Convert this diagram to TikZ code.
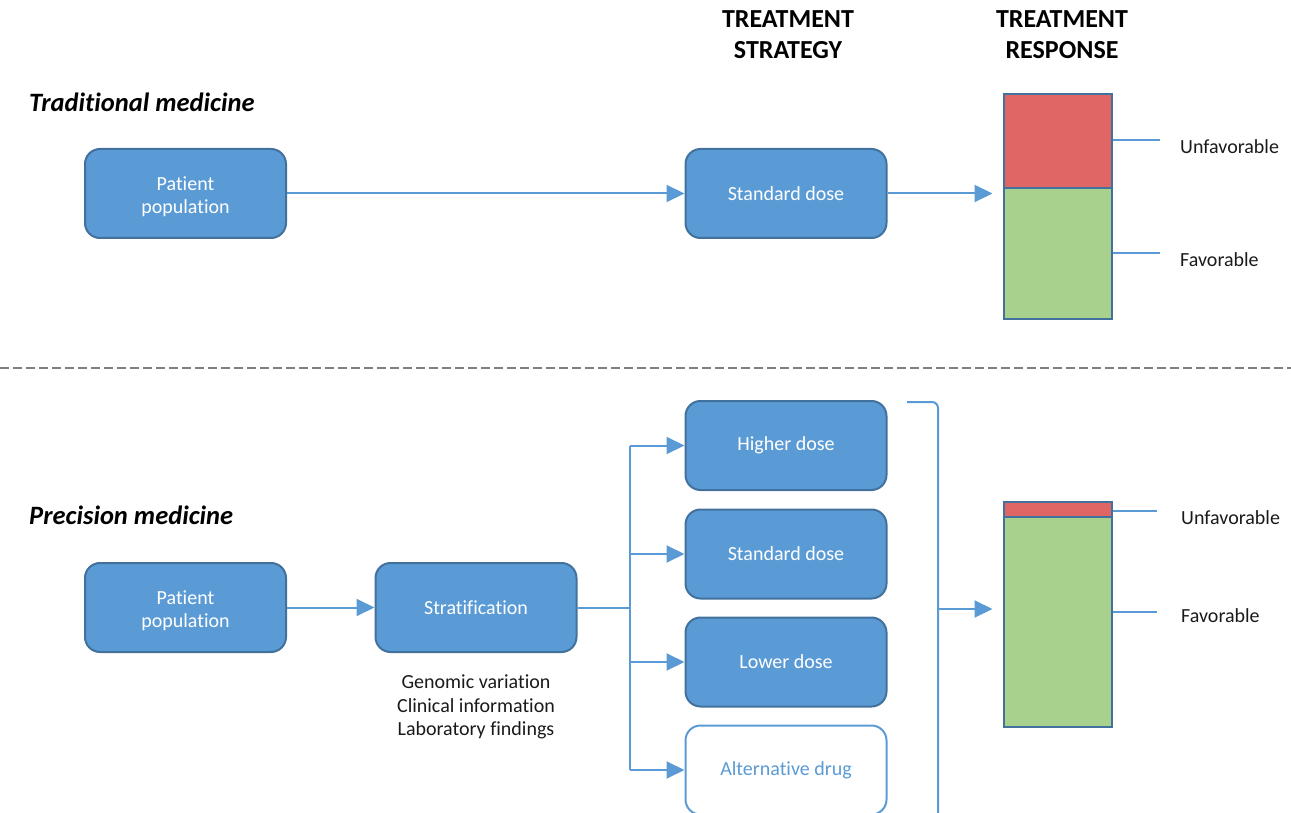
\documentclass[tikz,border=0pt]{standalone}
\usepackage{fontspec}
\setmainfont{Carlito}[Ligatures=NoCommon]
\usetikzlibrary{arrows.meta,calc}
\definecolor{boxfill}{HTML}{5B9BD5}
\definecolor{boxedge}{HTML}{41719C}
\definecolor{barred}{HTML}{E06666}
\definecolor{bargreen}{HTML}{A9D18E}
\definecolor{dashgray}{HTML}{7F7F7F}
\definecolor{txt}{HTML}{1A1A1A}
\newcommand{\lowered}[1]{\raisebox{-3pt}[\height][\depth]{\parbox{180pt}{\centering #1}}}
\begin{document}
\begin{tikzpicture}[x=1pt,y=-1pt,
  box/.style={draw=boxedge, line width=2pt, fill=boxfill, rounded corners=15pt,
    minimum width=201pt, minimum height=89pt, text=white, align=center, inner sep=0pt,
    font=\fontsize{20}{23.5}\selectfont},
  altbox/.style={box, fill=white, draw=boxfill, text=boxfill},
  barpart/.style={draw=boxedge, line width=2pt, minimum width=108pt, inner sep=0pt},
  conn/.style={draw=boxfill, line width=2pt},
  arr/.style={conn, -{Triangle[length=18pt,width=17pt]}},
  title/.style={font=\fontsize{26.5}{30}\selectfont\bfseries\itshape, text=black, inner sep=0pt},
  head/.style={font=\fontsize{26}{31}\selectfont\bfseries, text=black, align=center, inner sep=0pt},
  lbl/.style={font=\fontsize{20}{23.5}\selectfont, text=txt, inner sep=0pt},
]
\useasboundingbox (0,0) rectangle (1291,813);

% headers
\node[head, anchor=north] (hs) at (788,10) {TREATMENT\\STRATEGY};
\node[head, anchor=north] (hr) at (1062,10) {TREATMENT\\RESPONSE};

% ---------------- traditional
\node[title, anchor=base west] (trad) at (29,112) {Traditional medicine};
\node[box] (pp1) at (185.5,193.5) {\lowered{Patient\\population}};
\node[box] (sd1) at (786,193.5) {Standard dose};
\draw[arr] (pp1) -- (sd1);

\node[barpart, fill=barred, minimum height=94pt] (b1r) at (1057.5,141) {};
\node[barpart, fill=bargreen, minimum height=131pt] (b1g) at (1057.5,253.5) {};
\draw[arr, shorten >=10pt] (sd1.east) -- (sd1.east -| b1r.west);

\coordinate (u1) at (1160,140);
\coordinate (f1) at (1160,253);
\draw[conn] (b1r.east |- u1) -- (u1);
\draw[conn] (b1g.east |- f1) -- (f1);
\node[lbl, anchor=base west] (ul1) at (1180,154) {Unfavorable};
\node[lbl, anchor=base west] (fl1) at (1180,266) {Favorable};

% divider
\draw[dashgray, line width=2.8pt, dash pattern=on 9pt off 4pt] (0,368) -- (1291,368);

% ---------------- precision
\node[title, anchor=base west] (prec) at (29,524) {Precision medicine};
\node[box] (pp2) at (185.5,607.5) {\lowered{Patient\\population}};
\node[box] (st) at (476,607.5) {Stratification};
\draw[arr] (pp2) -- (st);
\node[lbl, align=center, anchor=north] (crit) at (476,675) {Genomic variation\\Clinical information\\Laboratory findings};

\node[box] (hd) at (786,445.5) {Higher dose};
\node[box] (sd2) at (786,554) {Standard dose};
\node[box] (ld) at (786,662) {Lower dose};
\node[altbox] (ad) at (786,770) {Alternative drug};

\coordinate (fork) at (630,608);
\draw[conn] (st.east |- fork) -- (fork);
\draw[conn] (fork |- hd) -- (fork |- ad);
\draw[arr] (fork |- hd) -- (hd.west);
\draw[arr] (fork |- sd2) -- (sd2.west);
\draw[arr] (fork |- ld) -- (ld.west);
\draw[arr] (fork |- ad) -- (ad.west);

% bracket
\coordinate (bt) at (907,402);
\coordinate (bb) at (938,830);
\draw[conn, rounded corners=6pt] (bt) -| (bb);
\coordinate (bm) at (938,609);

\node[barpart, fill=barred, minimum height=15pt] (b2r) at (1057.5,509.5) {};
\node[barpart, fill=bargreen, minimum height=210pt] (b2g) at (1057.5,622) {};
\draw[arr, shorten >=10pt] (bm) -- (bm -| b2g.west);

\coordinate (u2) at (1157,511);
\coordinate (f2) at (1157,612);
\draw[conn] (b2r.east |- u2) -- (u2);
\draw[conn] (b2g.east |- f2) -- (f2);
\node[lbl, anchor=base west] (ul2) at (1181,524) {Unfavorable};
\node[lbl, anchor=base west] (fl2) at (1181,622) {Favorable};
\end{tikzpicture}
\end{document}
